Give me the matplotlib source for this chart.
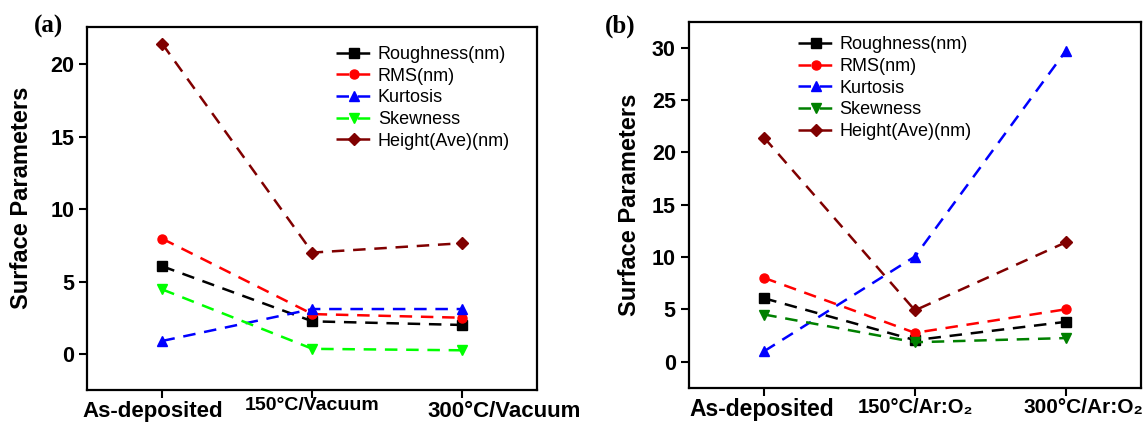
import matplotlib
matplotlib.use("Agg")
import matplotlib.pyplot as plt
from matplotlib.transforms import ScaledTranslation

plt.rcParams['font.family'] = ['Liberation Sans', 'DejaVu Sans']

# Data
names = ['Roughness(nm)', 'RMS(nm)', 'Kurtosis', 'Skewness', 'Height(Ave)(nm)']
labels_a = ['As-deposited', '150°C/Vacuum', '300°C/Vacuum']
labels_b = ['As-deposited', '150°C/Ar:O₂', '300°C/Ar:O₂']

rough_a = [6.05, 2.25, 2.0]
rms_a = [7.95, 2.75, 2.5]
kurt_a = [0.9, 3.1, 3.1]
skew_a = [4.45, 0.35, 0.25]
height_a = [21.4, 7.0, 7.65]

rough_b = [6.05, 2.05, 3.8]
rms_b = [8.0, 2.75, 5.0]
kurt_b = [1.0, 10.05, 29.7]
skew_b = [4.5, 1.85, 2.25]
height_b = [21.4, 4.9, 11.4]

fig = plt.figure(figsize=(11.45, 4.32), dpi=100)
ax1 = fig.add_axes([0.0764, 0.097, 0.393, 0.841])
ax2 = fig.add_axes([0.6017, 0.1025, 0.3948, 0.847])

markers = ['s', 'o', '^', 'v', 'D']
colors_a = ['black', 'red', 'blue', '#00ff00', '#800000']
colors_b = ['black', 'red', 'blue', '#008000', '#800000']


def draw(ax, series, colors, xlabels, ylim, yticks, legend_anchor,
         lab_sizes, lab_shift):
    x = list(range(len(xlabels)))
    for ys, name, c, m in zip(series, names, colors, markers):
        ax.plot(x, ys, linestyle=(0, (5, 3.5)), lw=1.8, color=c, marker=m,
                markersize=6.5 if m != 'D' else 6, label=name)
    ax.set_xlim(-0.5, 2.5)
    ax.set_ylim(*ylim)
    ax.set_yticks(yticks)
    ax.set_xticks(x)
    ax.set_xticklabels([])
    # the category labels in the original are not all the same size or centred,
    # so they are placed by hand under each tick
    for xi, lab, fs, (dx, dy) in zip(x, xlabels, lab_sizes, lab_shift):
        tr = ax.get_xaxis_transform() + ScaledTranslation(dx / 100, dy / 100,
                                                          fig.dpi_scale_trans)
        ax.text(xi, 0, lab, transform=tr, ha='center', va='top',
                fontsize=fs, fontweight='bold', clip_on=False)
    for t in ax.get_yticklabels():
        t.set_fontsize(15.5)
        t.set_fontweight('bold')
    ax.set_ylabel('Surface Parameters', fontsize=17, fontweight='bold', labelpad=8)
    ax.tick_params(direction='out', length=6, width=1.5)
    for s in ax.spines.values():
        s.set_linewidth(1.6)
    ax.legend(loc='upper left', bbox_to_anchor=legend_anchor, frameon=False,
              fontsize=13, handlelength=2.0, handletextpad=0.3,
              labelspacing=0.26, borderaxespad=0)


draw(ax1, [rough_a, rms_a, kurt_a, skew_a, height_a], colors_a, labels_a,
     (-2.5, 22.6), [0, 5, 10, 15, 20], (0.537, 0.967),
     [16, 14, 16], [(-10, -11), (0, -7), (42, -11)])
draw(ax2, [rough_b, rms_b, kurt_b, skew_b, height_b], colors_b, labels_b,
     (-2.5, 32.5), [0, 5, 10, 15, 20, 25, 30], (0.225, 0.98),
     [16.5, 14.5, 15], [(-3, -10), (0, -10), (18, -10)])
ax1.yaxis.set_label_coords(-0.12, 0.53)

fig.text(0.030, 0.925, '(a)', fontsize=18, fontweight='bold', family='Liberation Serif')
fig.text(0.528, 0.925, '(b)', fontsize=18, fontweight='bold', family='Liberation Serif')

fig.savefig('out.png', dpi=100)
